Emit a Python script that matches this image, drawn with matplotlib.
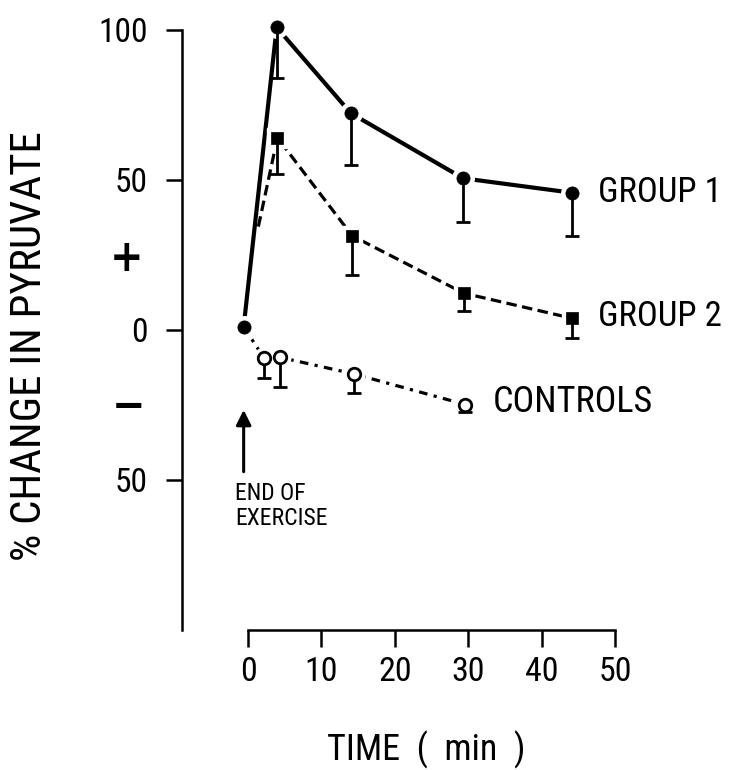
import matplotlib
matplotlib.use('Agg')
import matplotlib.pyplot as plt
from matplotlib import font_manager

# values (time in min, % change in pyruvate)
g1_time = [-0.6, 3.9, 14.0, 29.3, 44.1]
g1_val = [0.9, 100.7, 72.1, 50.4, 45.6]
g1_err = [0.0, 16.9, 17.3, 14.5, 14.4]

g2_time = [1.4, 4.0, 14.2, 29.4, 44.2]
g2_val = [34.3, 63.9, 31.2, 12.1, 3.7]
g2_err = [0.0, 12.1, 13.0, 5.8, 6.6]

ctl_time = [-0.6, 2.2, 4.4, 14.4, 29.6]
ctl_val = [0.9, -9.6, -9.3, -14.8, -25.0]
ctl_err = [0.0, 6.6, 9.8, 6.5, 2.5]

xticks = [0, 10, 20, 30, 40, 50]
yticks = [100, 50, 0, -50]
yticklabels = ['100', '50', '0', '50']

# look for a narrow sans face
cond = {}
for f in font_manager.fontManager.ttflist:
    if f.stretch in ('condensed', 'semi-condensed', 'extra-condensed') \
            or 'Narrow' in f.name or 'Condensed' in f.name:
        cond.setdefault(f.name, f.stretch)
pref = ['Liberation Sans Narrow', 'Roboto Condensed', 'DejaVu Sans Condensed',
        'DejaVu Sans', 'Noto Sans', 'Open Sans Condensed', 'Open Sans']
narrow, stretch = 'DejaVu Sans', 'normal'
for p in pref:
    if p in cond:
        narrow, stretch = p, cond[p]
        break
plt.rcParams['font.family'] = [narrow, 'DejaVu Sans']
plt.rcParams['font.stretch'] = stretch

fig = plt.figure(figsize=(7.54, 7.70), dpi=100)
ax = fig.add_axes([0.2414, 1 - 629.5 / 770, 0.7495, 600 / 770])
ax.set_xlim(-9, 68)
ax.set_ylim(-100, 100)


def draw_series(t, v, err, ls, lw, marker, ms, mfc, mew, skip_first):
    ax.plot(t, v, color='black', ls=ls, lw=lw, zorder=2, solid_capstyle='butt',
            dash_capstyle='butt', clip_on=False)
    mt = t[1:] if skip_first else t
    mv = v[1:] if skip_first else v
    me = err[1:] if skip_first else err
    # white halo round the symbols, like the gaps in the original drawing
    ax.plot(mt, mv, ls='none', marker=marker, ms=ms + 6, color='white', zorder=3,
            clip_on=False)
    lo = [a - b for a, b in zip(mv, me)]
    tt = [a for a, b in zip(mt, me) if b > 0]
    ll = [a for a, b in zip(lo, me) if b > 0]
    vv = [a for a, b in zip(mv, me) if b > 0]
    ax.vlines(tt, ll, vv, color='black', lw=2.0, zorder=4)
    ax.plot(tt, ll, ls='none', marker='_', ms=9.5, mew=2.0, color='black', zorder=4)
    ax.plot(mt, mv, ls='none', marker=marker, ms=ms, mfc=mfc, mec='black', mew=mew,
            zorder=5, clip_on=False)


draw_series(g1_time, g1_val, g1_err, '-', 3.0, 'o', 9.5, 'black', 0.5, False)
draw_series(g2_time, g2_val, g2_err, (0, (3.3, 1.7)), 2.3, 's', 8.0, 'black', 0.5, True)
draw_series(ctl_time, ctl_val, ctl_err, (0, (2.7, 2.0, 1.0, 2.0)), 2.3, 'o', 9.0, 'white', 2.0, True)

# axes look
for s in ['top', 'right']:
    ax.spines[s].set_visible(False)
ax.spines['left'].set_bounds(-100, 100)
ax.spines['bottom'].set_bounds(0, 50)
ax.spines['left'].set_linewidth(1.8)
ax.spines['bottom'].set_linewidth(1.8)
ax.set_xticks(xticks)
ax.set_xticklabels([str(x) for x in xticks])
ax.set_yticks(yticks)
ax.set_yticklabels(yticklabels)
ax.tick_params(axis='y', direction='out', length=11.5, width=1.8, pad=13, labelsize=24)
ax.tick_params(axis='x', direction='out', length=12, width=1.8, pad=7, labelsize=24.5)

ax.set_xlabel('TIME  (  min  )', fontsize=26)
ax.xaxis.set_label_coords(0.432, -0.168)
fig.text(30 / 754, 1 - 346 / 770, '% CHANGE IN PYRUVATE', rotation=90, fontsize=31,
         ha='center', va='center')

ax.text(-16.6, 23.8, '+', fontsize=32, fontweight='bold', family='DejaVu Sans',
        ha='center', va='center', clip_on=False)
ax.text(-16.3, -25.5, '\u2212', fontsize=32, fontweight='bold', family='DejaVu Sans',
        ha='center', va='center', clip_on=False)

ax.text(47.7, 45.8, 'GROUP 1', fontsize=25, ha='left', va='center')
ax.text(47.7, 4.5, 'GROUP 2', fontsize=25, ha='left', va='center')
ax.text(33.4, -24.2, 'CONTROLS', fontsize=26, ha='left', va='center')

ax.annotate('', xy=(-0.6, -26.8), xytext=(-0.6, -47.4),
            arrowprops=dict(arrowstyle='-|>,head_length=0.9,head_width=0.45',
                            color='black', lw=2.2, shrinkA=0, shrinkB=0))
ax.text(-1.8, -50.8, 'END OF\nEXERCISE', fontsize=17, ha='left', va='top',
        linespacing=1.1)

fig.savefig('out.png', dpi=100)
